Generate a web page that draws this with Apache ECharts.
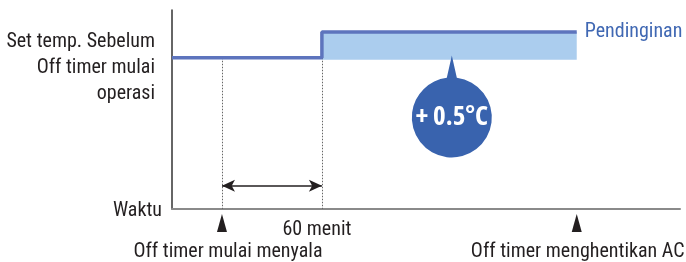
<!DOCTYPE html>
<html>
<head>
<meta charset="utf-8">
<script src="https://cdn.jsdelivr.net/npm/echarts@6/dist/echarts.min.js"></script>
<style>
  html, body { margin: 0; padding: 0; background: #fff; }
  #myChart { width: 686px; height: 262px; }
</style>
</head>
<body>
<div id="myChart"></div>
<script>
    /////////////////////////
    // data (x = minutes, y = relative set temperature level)

    var stepX = [0, 90, 90, 243];
    var stepY = [76, 76, 89, 89];

    var riseArea = [[90, 75], [243, 89]];

    var guideX = [30, 90, 243];
    var guideTop = [76, 76, 101];

    var spanStart = 30;
    var spanEnd = 90;
    var spanY = 11.7;

    var markerX = [30, 243];
    var markerY = -7;
    var markerText = ['Off timer mulai menyala', 'Off timer menghentikan AC'];

    var bubble = [168, 46, '+ 0.5°C'];

    var axisTexts = [
        [-10.2, 70.9, 'Set temp. Sebelum\nOff timer mulai\noperasi'],
        [-6, -1, 'Waktu'],
        [87, -10.5, '60 menit']
    ];

    var endText = 'Pendinginan';

    /////////////////////////

    var FONT = "'Roboto Condensed', 'DejaVu Sans Condensed', sans-serif";
    var TEXT = '#231f20';

    var myChart;

    function getMyChart() {
        if (myChart != undefined) {
            return myChart;
        }
        myChart = echarts.init(document.getElementById('myChart'), null, { renderer: 'canvas' });
        return myChart;
    }

    function makeOptions() {
        var stepData = [];
        for (var i = 0; i < stepX.length; i++) {
            stepData.push([stepX[i], stepY[i]]);
        }

        var guides = [];
        for (var j = 0; j < guideX.length; j++) {
            guides.push([{ coord: [guideX[j], guideTop[j]] }, { coord: [guideX[j], 0] }]);
        }

        var markers = [];
        for (var k = 0; k < markerX.length; k++) {
            markers.push({
                value: [markerX[k], markerY],
                label: { offset: [k == 0 ? 6 : 1, 0], formatter: markerText[k] }
            });
        }

        var option = {
            animation: false,
            grid: { left: 172, right: 6, top: 10, bottom: 53 },
            xAxis: {
                type: 'value', min: 0, max: 305,
                axisLine: { show: true, lineStyle: { color: '#8a8a8a', width: 2 } },
                axisTick: { show: false }, axisLabel: { show: false }, splitLine: { show: false }
            },
            yAxis: {
                type: 'value', min: 0, max: 100,
                axisLine: { show: true, lineStyle: { color: '#333', width: 1.5 } },
                axisTick: { show: false }, axisLabel: { show: false }, splitLine: { show: false }
            },
            series: [
                {
                    name: 'set temp',
                    type: 'line',
                    data: stepData,
                    symbol: 'none',
                    z: 5,
                    lineStyle: { color: '#5d74bd', width: 3.5 },
                    endLabel: {
                        show: true, formatter: endText, distance: 8,
                        color: '#4068b3', fontSize: 20, fontFamily: FONT
                    },
                    markArea: {
                        silent: true,
                        itemStyle: { color: '#abcdee', opacity: 1 },
                        data: [[{ coord: riseArea[0] }, { coord: riseArea[1] }]]
                    }
                },
                {
                    name: 'guides',
                    type: 'line',
                    data: [],
                    markLine: {
                        silent: true, symbol: 'none', clip: false,
                        label: { show: false },
                        lineStyle: { color: '#666', width: 1, type: [1.5, 1.5] },
                        data: guides
                    }
                },
                {
                    name: 'span',
                    type: 'line',
                    data: [],
                    markLine: {
                        silent: true, symbol: ['arrow', 'arrow'], symbolSize: [9, 13],
                        label: { show: false },
                        lineStyle: { color: '#231f20', width: 1.5, type: 'solid' },
                        data: [[{ coord: [spanStart, spanY] }, { coord: [spanEnd, spanY] }]]
                    }
                },
                {
                    name: 'markers',
                    type: 'scatter',
                    clip: false,
                    symbol: 'triangle',
                    symbolSize: [10, 18],
                    itemStyle: { color: TEXT, opacity: 1 },
                    label: {
                        show: true, position: 'bottom', distance: 10,
                        color: TEXT, fontSize: 20, fontFamily: FONT
                    },
                    data: markers
                },
                {
                    name: 'bubble',
                    type: 'scatter',
                    clip: false,
                    z: 6,
                    symbol: 'path://M0,-62 L5,-39.7 A40,40 0 1 1 -5,-39.7 Z',
                    symbolSize: [80, 102],
                    symbolOffset: [0, -11],
                    itemStyle: { color: '#3963ae', opacity: 1 },
                    label: {
                        show: true, position: 'inside', offset: [0, 11],
                        formatter: function (p) { return p.value[2]; },
                        color: '#fff', fontSize: 27, fontStyle: 'condensed', fontWeight: 'bold',
                        fontFamily: "'Open Sans', 'Roboto Condensed', sans-serif"
                    },
                    data: [bubble]
                },
                {
                    name: 'texts',
                    type: 'scatter',
                    clip: false,
                    symbolSize: 0,
                    itemStyle: { opacity: 1 },
                    label: {
                        show: true, position: 'inside',
                        formatter: function (p) { return p.value[2]; },
                        color: TEXT, fontSize: 20, lineHeight: 26, fontFamily: FONT
                    },
                    data: [
                        { value: axisTexts[0], label: { align: 'right' } },
                        { value: axisTexts[1], label: { align: 'right' } },
                        { value: axisTexts[2], label: { align: 'center' } }
                    ]
                }
            ]
        };
        return option;
    }

    getMyChart().setOption(makeOptions());
</script>
</body>
</html>
